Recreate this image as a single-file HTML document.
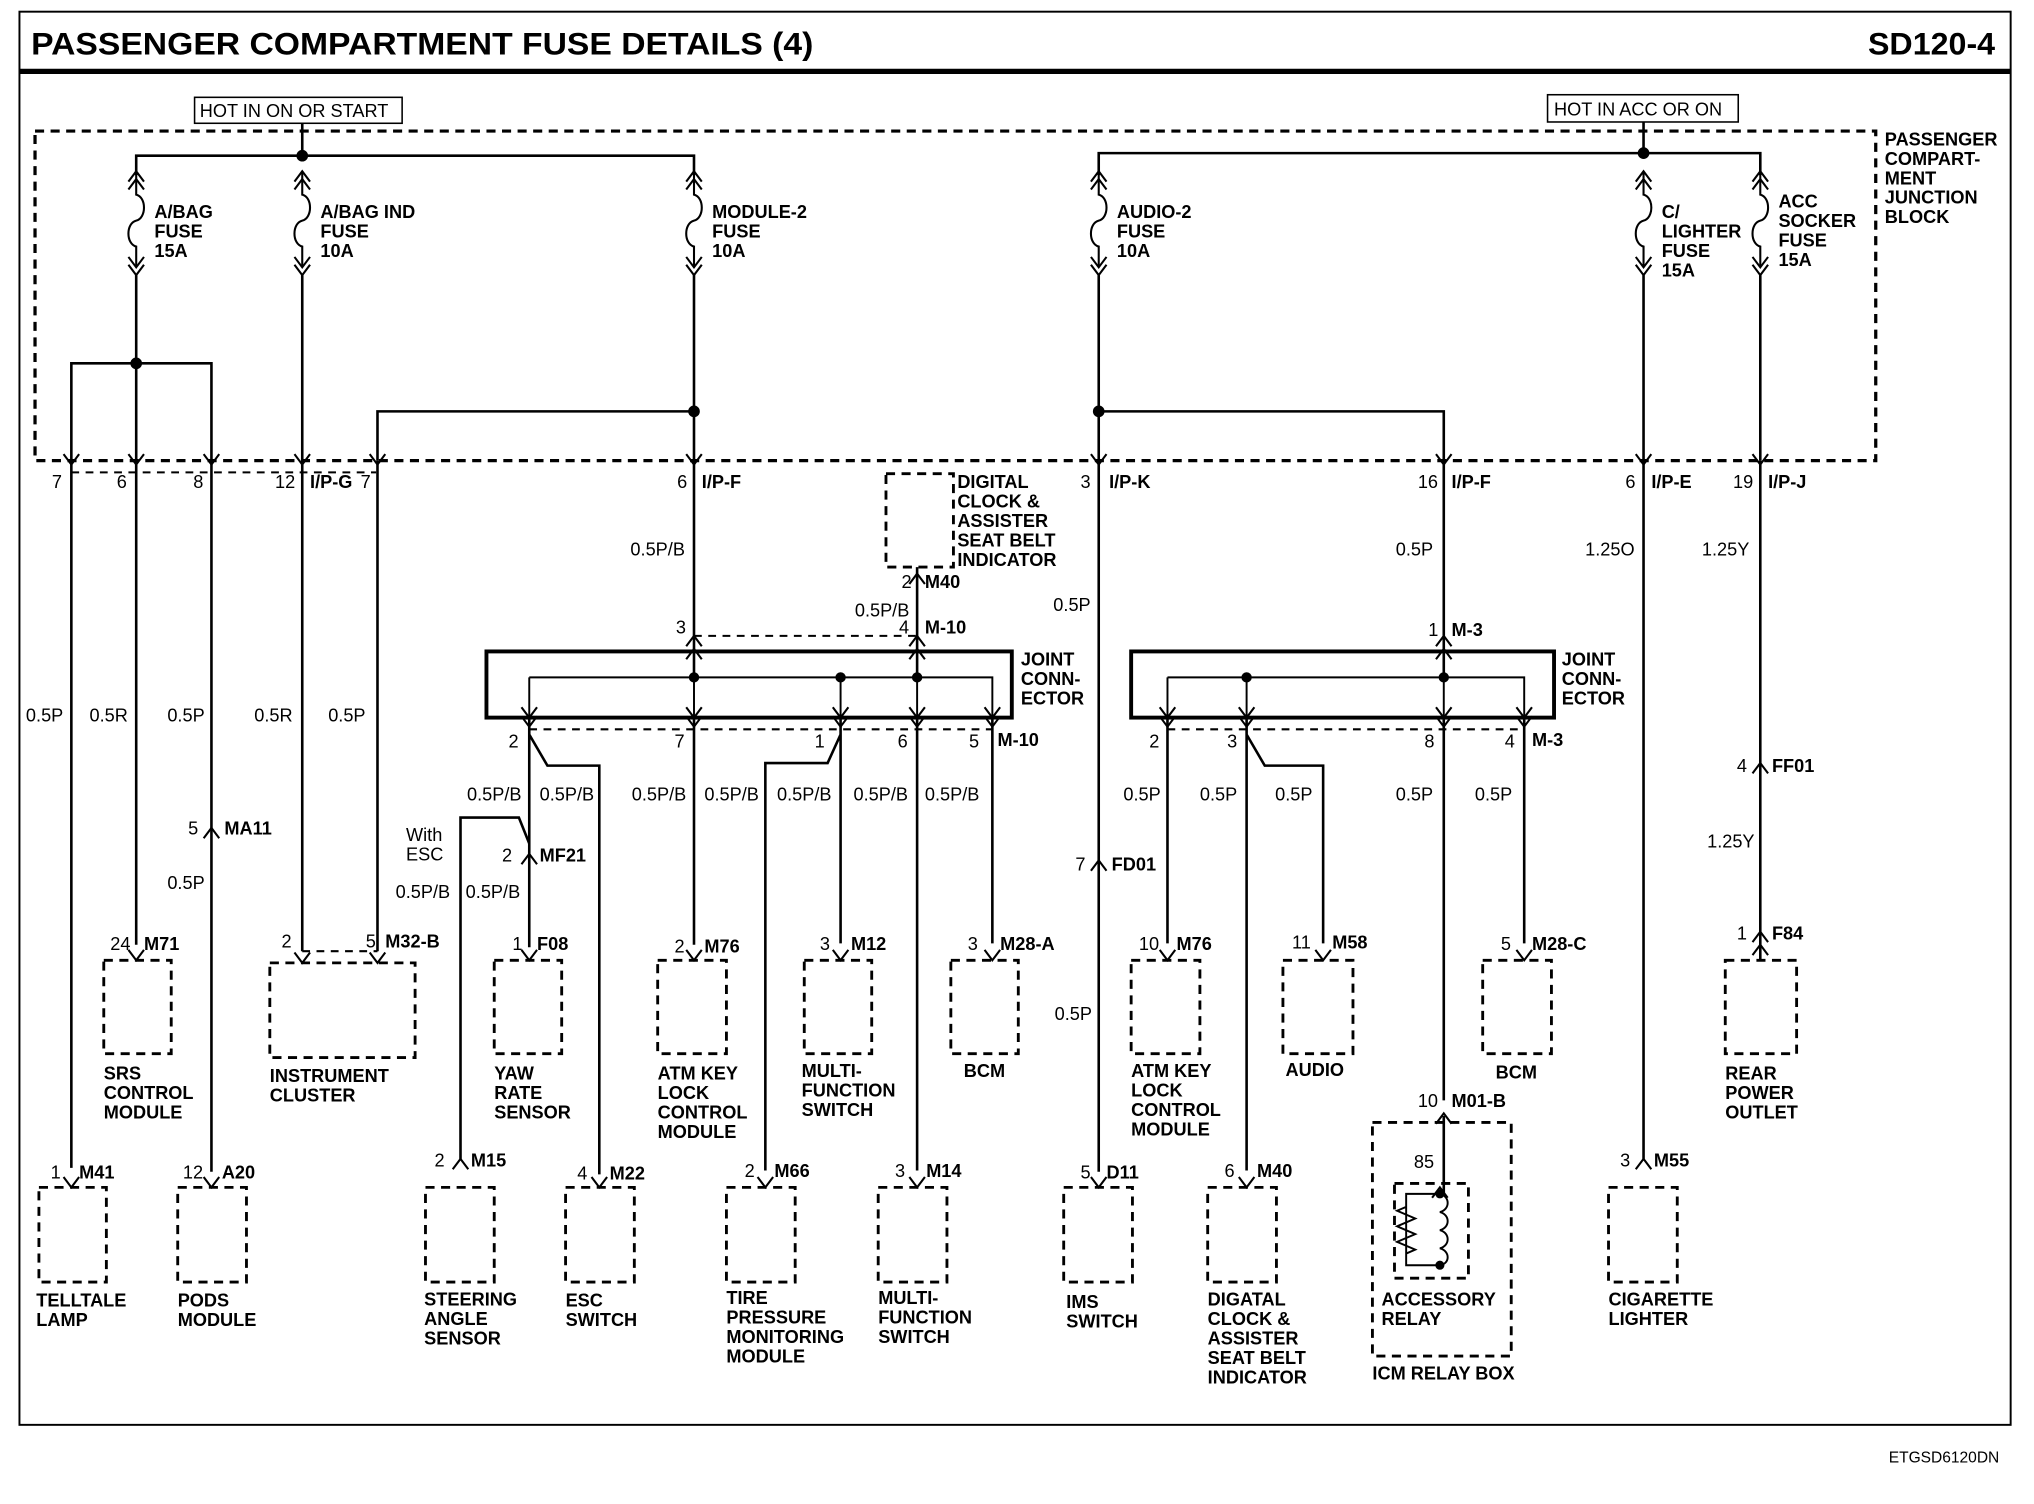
<!DOCTYPE html>
<html><head><meta charset="utf-8"><style>
html,body{margin:0;padding:0;background:#fff}
svg{display:block}
text{font-family:"Liberation Sans",sans-serif;fill:#000}
.b{font-weight:bold;font-size:14px}
.r{font-size:14px}
.t{font-weight:bold;font-size:24px}
</style></head><body>
<svg width="2034" height="1504" viewBox="0 0 1568 1159" preserveAspectRatio="none" xmlns="http://www.w3.org/2000/svg">
<defs>
<path id="cd" d="M-6,-8 L0,0 L6,-8" fill="none" stroke="#000" stroke-width="1.6"/>
<path id="cu" d="M-6,8 L0,0 L6,8" fill="none" stroke="#000" stroke-width="1.6"/>
<g id="fuse" fill="none" stroke="#000" stroke-width="1.6">
<path d="M-6,140 L0,132 L6,140 M-6,146 L0,138 L6,146"/>
<path d="M0,132 L0,150 C8,152 8,168 0,170 C-8,172 -8,188 0,190 L0,206"/>
<path d="M-6,198 L0,206 L6,198 M-6,204 L0,212 L6,204"/>
</g>
</defs>
<g fill="none" stroke="#000">
<rect x="15" y="9" width="1535" height="1089" stroke-width="1.5"/>
<line x1="15" y1="55" x2="1550" y2="55" stroke-width="4"/>
<rect x="150" y="75" width="160" height="20" stroke-width="1.2"/>
<rect x="1193" y="73" width="147" height="21" stroke-width="1.2"/>
<g stroke-dasharray="7,5" stroke-width="2.5">
<rect x="27" y="101" width="1419" height="254"/>
</g>
<g stroke-dasharray="6,5" stroke-width="1.6">
<line x1="55" y1="364" x2="290" y2="364"/>
<line x1="535" y1="490" x2="707" y2="490"/>
<line x1="408" y1="562" x2="765" y2="562"/>
<line x1="900" y1="562" x2="1175" y2="562"/>
<line x1="233" y1="733" x2="291" y2="733"/>
</g>
<g stroke-dasharray="7,5" stroke-width="2.2">
<rect x="683" y="365" width="52" height="72"/>
<rect x="80" y="740" width="52" height="72"/>
<rect x="208" y="742" width="112" height="73"/>
<rect x="381" y="740" width="52" height="72"/>
<rect x="507" y="740" width="53" height="72"/>
<rect x="620" y="740" width="52" height="72"/>
<rect x="733" y="740" width="52" height="72"/>
<rect x="872" y="740" width="53" height="72"/>
<rect x="989" y="740" width="54" height="72"/>
<rect x="1143" y="740" width="53" height="72"/>
<rect x="1330" y="740" width="55" height="72"/>
<rect x="30" y="915" width="52" height="73"/>
<rect x="137" y="915" width="53" height="73"/>
<rect x="328" y="915" width="53" height="73"/>
<rect x="436" y="915" width="53" height="73"/>
<rect x="560" y="915" width="53" height="73"/>
<rect x="677" y="915" width="53" height="73"/>
<rect x="820" y="915" width="53" height="73"/>
<rect x="931" y="915" width="53" height="73"/>
<rect x="1240" y="915" width="53" height="73"/>
<rect x="1058" y="865" width="107" height="180"/>
<rect x="1075" y="912" width="57" height="73"/>
</g>
<rect x="375" y="502" width="405" height="51" stroke-width="3"/>
<rect x="872" y="502" width="326" height="51" stroke-width="3"/>
<g stroke-width="2">
<path d="M233,95 V120 M105,135 V120 H535 V135"/>
<path d="M1267,94 V118 M847,135 V118 H1357 V135"/>
<path d="M105,212 V355 M55,355 V280 H163 V355"/>
<path d="M233,212 V355"/>
<path d="M535,212 V355 M535,317 H291 V355"/>
<path d="M847,212 V355 M847,317 H1113 V355"/>
<path d="M1267,212 V355 M1357,212 V355"/>
<path d="M55,355 V900 M105,355 V728 M163,355 V903 M233,355 V733 M291,355 V733"/>
<path d="M535,355 V490 M707,437 V490"/>
<path d="M535,490 V522 M707,490 V522"/>
<path d="M408,553 V730 M408,566 L422,590 H462 V905"/>
<path d="M355,893 V630 H400 L408,650"/>
<path d="M535,553 V728"/>
<path d="M648,553 V727 M648,566 L638,588 H590 V902"/>
<path d="M707,553 V902 M765,553 V727"/>
<path d="M847,355 V903 M1113,355 V522 M1113,553 V848 M1113,860 V920"/>
<path d="M900,553 V727 M961,553 V902 M961,566 L975,590 H1020 V727 M1175,553 V727"/>
<path d="M1267,355 V893 M1357,355 V740"/>
</g>
<g stroke-width="1.5">
<path d="M408,522 H765 V553 M408,522 V553 M535,522 V553 M648,522 V553 M707,522 V553"/>
<path d="M900,522 H1175 V553 M900,522 V553 M961,522 V553 M1113,522 V553"/>
<path d="M1110,920 H1084 V975 H1110 M1084,930 l-7,3 l14,6 l-14,6 l14,6 l-14,6 l14,6 l-7,3"/>
<path d="M1110,920 c8,2 8,12 0,14 c8,2 8,12 0,14 c8,2 8,12 0,14 c8,2 8,12 0,13"/>
</g>
</g>
<g fill="#000">
<circle cx="233" cy="120" r="4.5"/><circle cx="105" cy="280" r="4.5"/><circle cx="535" cy="317" r="4.5"/>
<circle cx="1267" cy="118" r="4.5"/><circle cx="847" cy="317" r="4.5"/>
<circle cx="535" cy="522" r="4"/><circle cx="648" cy="522" r="4"/><circle cx="707" cy="522" r="4"/>
<circle cx="961" cy="522" r="4"/><circle cx="1113" cy="522" r="4"/>
<circle cx="1110" cy="920" r="3.5"/><circle cx="1110" cy="975" r="3.5"/>
</g>
<use href="#fuse" x="105" y="0"/><use href="#fuse" x="233" y="0"/><use href="#fuse" x="535" y="0"/>
<use href="#fuse" x="847" y="0"/><use href="#fuse" x="1267" y="0"/><use href="#fuse" x="1357" y="0"/>
<use href="#cd" x="55" y="358"/><use href="#cd" x="105" y="358"/><use href="#cd" x="163" y="358"/>
<use href="#cd" x="233" y="358"/><use href="#cd" x="291" y="358"/><use href="#cd" x="535" y="358"/>
<use href="#cd" x="847" y="358"/><use href="#cd" x="1113" y="358"/><use href="#cd" x="1267" y="358"/><use href="#cd" x="1357" y="358"/>
<use href="#cu" x="535" y="490"/><use href="#cu" x="707" y="490"/><use href="#cu" x="1113" y="490"/>
<use href="#cu" x="535" y="500"/><use href="#cu" x="707" y="500"/><use href="#cu" x="1113" y="500"/>
<use href="#cd" x="408" y="560"/><use href="#cd" x="535" y="560"/><use href="#cd" x="648" y="560"/><use href="#cd" x="707" y="560"/><use href="#cd" x="765" y="560"/>
<use href="#cd" x="900" y="560"/><use href="#cd" x="961" y="560"/><use href="#cd" x="1113" y="560"/><use href="#cd" x="1175" y="560"/>
<use href="#cd" x="408" y="553"/><use href="#cd" x="535" y="553"/><use href="#cd" x="648" y="553"/><use href="#cd" x="707" y="553"/><use href="#cd" x="765" y="553"/>
<use href="#cd" x="900" y="553"/><use href="#cd" x="961" y="553"/><use href="#cd" x="1113" y="553"/><use href="#cd" x="1175" y="553"/>
<use href="#cu" x="163" y="638"/><use href="#cu" x="408" y="658"/><use href="#cu" x="847" y="663"/>
<use href="#cu" x="1357" y="588"/><use href="#cu" x="1357" y="718"/><use href="#cu" x="707" y="442"/>
<use href="#cu" x="1113" y="858"/><use href="#cu" x="1110" y="915"/>
<use href="#cd" x="55" y="915"/><use href="#cd" x="105" y="740"/><use href="#cd" x="163" y="915"/>
<use href="#cd" x="233" y="742"/><use href="#cd" x="291" y="742"/><use href="#cd" x="408" y="740"/>
<use href="#cu" x="355" y="893"/><use href="#cd" x="462" y="915"/><use href="#cd" x="535" y="740"/>
<use href="#cd" x="590" y="915"/><use href="#cd" x="648" y="740"/><use href="#cd" x="707" y="915"/><use href="#cd" x="765" y="740"/>
<use href="#cd" x="847" y="915"/><use href="#cd" x="900" y="740"/><use href="#cd" x="961" y="915"/><use href="#cd" x="1020" y="740"/>
<use href="#cd" x="1175" y="740"/><use href="#cu" x="1267" y="893"/><use href="#cu" x="1357" y="728"/>

<text class="t" x="24" y="42" textLength="603" lengthAdjust="spacingAndGlyphs">PASSENGER COMPARTMENT FUSE DETAILS (4)</text>
<text class="t" x="1440" y="42" textLength="98" lengthAdjust="spacingAndGlyphs">SD120-4</text>
<text class="r" x="154" y="90">HOT IN ON OR START</text>
<text class="r" x="1198" y="89">HOT IN ACC OR ON</text>
<g class="b">
<text x="119" y="168">A/BAG</text><text x="119" y="183">FUSE</text><text x="119" y="198">15A</text>
<text x="247" y="168">A/BAG IND</text><text x="247" y="183">FUSE</text><text x="247" y="198">10A</text>
<text x="549" y="168">MODULE-2</text><text x="549" y="183">FUSE</text><text x="549" y="198">10A</text>
<text x="861" y="168">AUDIO-2</text><text x="861" y="183">FUSE</text><text x="861" y="198">10A</text>
<text x="1281" y="168">C/</text><text x="1281" y="183">LIGHTER</text><text x="1281" y="198">FUSE</text><text x="1281" y="213">15A</text>
<text x="1371" y="160">ACC</text><text x="1371" y="175">SOCKER</text><text x="1371" y="190">FUSE</text><text x="1371" y="205">15A</text>
<text x="1453" y="112">PASSENGER</text><text x="1453" y="127">COMPART-</text><text x="1453" y="142">MENT</text><text x="1453" y="157">JUNCTION</text><text x="1453" y="172">BLOCK</text>
<text x="738" y="376">DIGITAL</text><text x="738" y="391">CLOCK &amp;</text><text x="738" y="406">ASSISTER</text><text x="738" y="421">SEAT BELT</text><text x="738" y="436">INDICATOR</text>
<text x="787" y="513">JOINT</text><text x="787" y="528">CONN-</text><text x="787" y="543">ECTOR</text>
<text x="1204" y="513">JOINT</text><text x="1204" y="528">CONN-</text><text x="1204" y="543">ECTOR</text>
<text x="541" y="376">I/P-F</text><text x="239" y="376">I/P-G</text><text x="855" y="376">I/P-K</text><text x="1119" y="376">I/P-F</text>
<text x="1273" y="376">I/P-E</text><text x="1363" y="376">I/P-J</text>
<text x="713" y="453">M40</text><text x="713" y="488">M-10</text><text x="1119" y="490">M-3</text>
<text x="769" y="575">M-10</text><text x="1181" y="575">M-3</text>
<text x="173" y="643">MA11</text><text x="416" y="664">MF21</text><text x="857" y="671">FD01</text>
<text x="1366" y="595">FF01</text><text x="1366" y="724">F84</text>
<text x="111" y="732">M71</text><text x="297" y="730">M32-B</text><text x="414" y="732">F08</text>
<text x="543" y="734">M76</text><text x="656" y="732">M12</text><text x="771" y="732">M28-A</text>
<text x="907" y="732">M76</text><text x="1027" y="731">M58</text><text x="1181" y="732">M28-C</text>
<text x="1119" y="853">M01-B</text>
<text x="61" y="908">M41</text><text x="171" y="908">A20</text><text x="363" y="899">M15</text><text x="470" y="909">M22</text>
<text x="597" y="907">M66</text><text x="714" y="907">M14</text><text x="853" y="908">D11</text><text x="969" y="907">M40</text><text x="1275" y="899">M55</text>
<text x="80" y="832">SRS</text><text x="80" y="847">CONTROL</text><text x="80" y="862">MODULE</text>
<text x="208" y="834">INSTRUMENT</text><text x="208" y="849">CLUSTER</text>
<text x="381" y="832">YAW</text><text x="381" y="847">RATE</text><text x="381" y="862">SENSOR</text>
<text x="507" y="832">ATM KEY</text><text x="507" y="847">LOCK</text><text x="507" y="862">CONTROL</text><text x="507" y="877">MODULE</text>
<text x="618" y="830">MULTI-</text><text x="618" y="845">FUNCTION</text><text x="618" y="860">SWITCH</text>
<text x="743" y="830">BCM</text>
<text x="872" y="830">ATM KEY</text><text x="872" y="845">LOCK</text><text x="872" y="860">CONTROL</text><text x="872" y="875">MODULE</text>
<text x="991" y="829">AUDIO</text><text x="1153" y="831">BCM</text>
<text x="1330" y="832">REAR</text><text x="1330" y="847">POWER</text><text x="1330" y="862">OUTLET</text>
<text x="28" y="1007">TELLTALE</text><text x="28" y="1022">LAMP</text>
<text x="137" y="1007">PODS</text><text x="137" y="1022">MODULE</text>
<text x="327" y="1006">STEERING</text><text x="327" y="1021">ANGLE</text><text x="327" y="1036">SENSOR</text>
<text x="436" y="1007">ESC</text><text x="436" y="1022">SWITCH</text>
<text x="560" y="1005">TIRE</text><text x="560" y="1020">PRESSURE</text><text x="560" y="1035">MONITORING</text><text x="560" y="1050">MODULE</text>
<text x="677" y="1005">MULTI-</text><text x="677" y="1020">FUNCTION</text><text x="677" y="1035">SWITCH</text>
<text x="822" y="1008">IMS</text><text x="822" y="1023">SWITCH</text>
<text x="931" y="1006">DIGATAL</text><text x="931" y="1021">CLOCK &amp;</text><text x="931" y="1036">ASSISTER</text><text x="931" y="1051">SEAT BELT</text><text x="931" y="1066">INDICATOR</text>
<text x="1065" y="1006">ACCESSORY</text><text x="1065" y="1021">RELAY</text>
<text x="1058" y="1063">ICM RELAY BOX</text>
<text x="1240" y="1006">CIGARETTE</text><text x="1240" y="1021">LIGHTER</text>
</g>
<g class="r">
<text x="40" y="376">7</text><text x="90" y="376">6</text><text x="149" y="376">8</text><text x="212" y="376">12</text><text x="278" y="376">7</text>
<text x="522" y="376">6</text><text x="833" y="376">3</text><text x="1093" y="376">16</text><text x="1253" y="376">6</text><text x="1336" y="376">19</text>
<text x="486" y="428">0.5P/B</text><text x="1076" y="428">0.5P</text><text x="1222" y="428">1.25O</text><text x="1312" y="428">1.25Y</text>
<text x="695" y="453">2</text><text x="659" y="475">0.5P/B</text><text x="812" y="471">0.5P</text>
<text x="521" y="488">3</text><text x="693" y="488">4</text><text x="1101" y="490">1</text>
<text x="392" y="576">2</text><text x="520" y="576">7</text><text x="628" y="576">1</text><text x="692" y="576">6</text><text x="747" y="576">5</text>
<text x="886" y="576">2</text><text x="946" y="576">3</text><text x="1098" y="576">8</text><text x="1160" y="576">4</text>
<text x="20" y="556">0.5P</text><text x="69" y="556">0.5R</text><text x="129" y="556">0.5P</text><text x="196" y="556">0.5R</text><text x="253" y="556">0.5P</text>
<text x="360" y="617">0.5P/B</text><text x="416" y="617">0.5P/B</text><text x="487" y="617">0.5P/B</text><text x="543" y="617">0.5P/B</text>
<text x="599" y="617">0.5P/B</text><text x="658" y="617">0.5P/B</text><text x="713" y="617">0.5P/B</text>
<text x="866" y="617">0.5P</text><text x="925" y="617">0.5P</text><text x="983" y="617">0.5P</text><text x="1076" y="617">0.5P</text><text x="1137" y="617">0.5P</text>
<text x="1339" y="595">4</text><text x="1316" y="653">1.25Y</text><text x="1339" y="724">1</text>
<text x="145" y="643">5</text><text x="129" y="685">0.5P</text>
<text x="313" y="648">With</text><text x="313" y="663">ESC</text><text x="387" y="664">2</text>
<text x="305" y="692">0.5P/B</text><text x="359" y="692">0.5P/B</text>
<text x="829" y="671">7</text><text x="813" y="786">0.5P</text>
<text x="85" y="732">24</text><text x="217" y="730">2</text><text x="282" y="730">5</text><text x="395" y="732">1</text>
<text x="520" y="734">2</text><text x="632" y="732">3</text><text x="746" y="732">3</text>
<text x="878" y="732">10</text><text x="996" y="731">11</text><text x="1157" y="732">5</text><text x="1093" y="853">10</text><text x="1090" y="900">85</text>
<text x="39" y="908">1</text><text x="141" y="908">12</text><text x="335" y="899">2</text><text x="445" y="909">4</text>
<text x="574" y="907">2</text><text x="690" y="907">3</text><text x="833" y="908">5</text><text x="944" y="907">6</text><text x="1249" y="899">3</text>
<text x="1456" y="1127" style="font-size:12px">ETGSD6120DN</text>
</g>
</svg>
</body></html>
